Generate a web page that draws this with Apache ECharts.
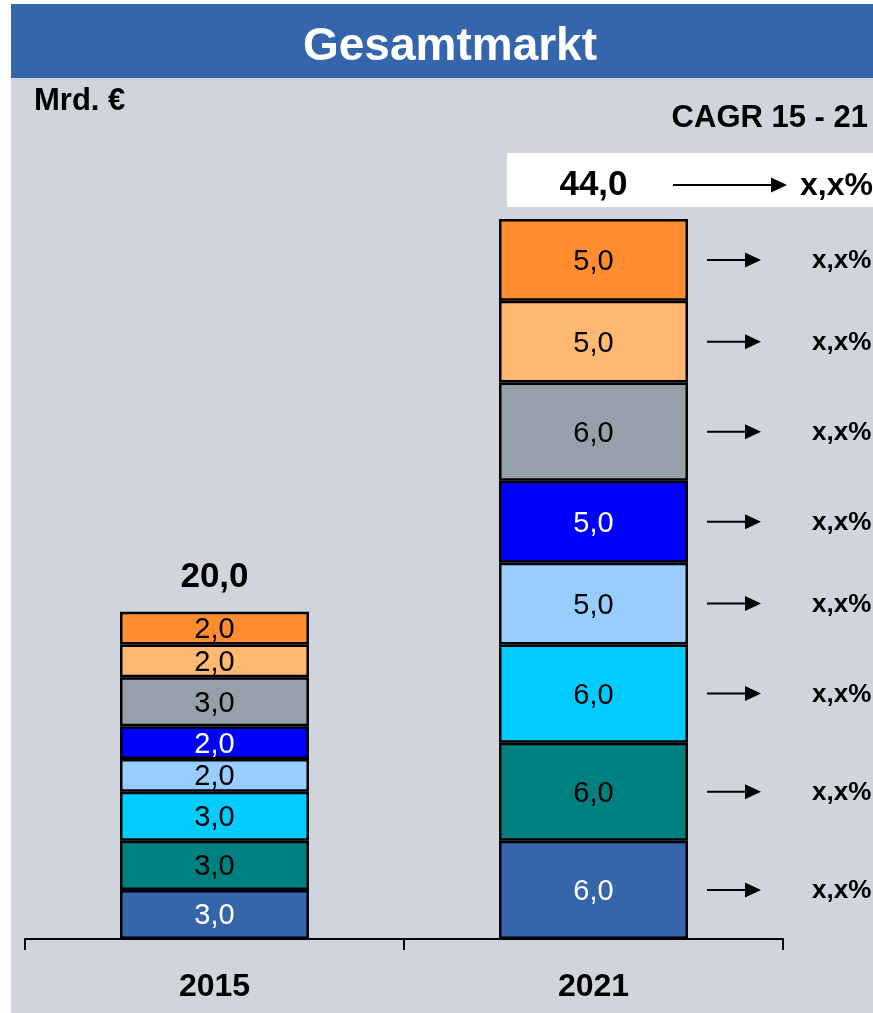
<!DOCTYPE html>
<html>
<head>
<meta charset="utf-8">
<script src="https://cdn.jsdelivr.net/npm/echarts@6/dist/echarts.min.js"></script>
<style>
  html, body { margin: 0; padding: 0; background: #ffffff; }
  #chart { width: 873px; height: 1013px; }
</style>
</head>
<body>
<div id="chart"></div>
<script>
// ---- data ----
const categories = ['2015', '2021'];
const segmentNames = ['Segment 1', 'Segment 2', 'Segment 3', 'Segment 4', 'Segment 5', 'Segment 6', 'Segment 7', 'Segment 8'];
const values2015 = [3, 3, 3, 2, 2, 3, 2, 2];
const values2021 = [6, 6, 6, 5, 5, 6, 5, 5];
const cagrSegments = ['x,x%', 'x,x%', 'x,x%', 'x,x%', 'x,x%', 'x,x%', 'x,x%', 'x,x%'];
const cagrTotal = [null, 'x,x%'];
const titleText = 'Gesamtmarkt';
const unitText = 'Mrd. \u20AC';
const cagrHeader = 'CAGR 15 - 21';

// ---- styles ----
const segmentColors = ['#3566AB', '#008080', '#00CCFF', '#99CCFF', '#0000FF', '#96A0AA', '#FFB871', '#FF8C2F'];
const labelColors = ['#ffffff', '#000000', '#000000', '#000000', '#ffffff', '#000000', '#000000', '#000000'];
const FONT = "'Liberation Sans', Arial, Helvetica, sans-serif";

const fmt = v => v.toFixed(1).replace('.', ',');
const sum = a => a.reduce((s, v) => s + v, 0);
const totals = [sum(values2015), sum(values2021)];

// cumulative ranges for 2021 segments (for CAGR arrows)
const ranges2021 = [];
{ let c = 0; values2021.forEach(v => { ranges2021.push([1, c, c + v]); c += v; }); }

const barSeries = segmentNames.map((name, i) => ({
  name: name,
  type: 'bar',
  stack: 'total',
  barWidth: 189,
  data: [values2015[i], values2021[i]],
  itemStyle: { color: segmentColors[i], borderColor: '#000', borderWidth: 2.5 },
  label: {
    show: true,
    position: 'inside',
    offset: [0, 2],
    formatter: p => fmt(p.value),
    color: labelColors[i],
    fontFamily: FONT,
    fontSize: 29
  },
  emphasis: { disabled: true }
}));

function arrow(x1, x2, y, headLen, headH) {
  return [
    { type: 'line', shape: { x1: x1, y1: y, x2: x2 - headLen + 1, y2: y }, style: { stroke: '#000', lineWidth: 2 } },
    { type: 'polygon', shape: { points: [[x2, y], [x2 - headLen, y - headH], [x2 - headLen, y + headH]] }, style: { fill: '#000' } }
  ];
}

const cagrSeries = {
  type: 'custom',
  data: ranges2021,
  z: 5,
  renderItem: function (params, api) {
    const p = api.coord([api.value(0), (api.value(1) + api.value(2)) / 2]);
    const y = p[1];
    return {
      type: 'group',
      children: arrow(p[0] + 113.5, p[0] + 167.5, y, 16, 7.5).concat([
        { type: 'text', x: p[0] + 218.5, y: y + 1,
          style: { text: cagrSegments[params.dataIndex], font: 'bold 26px ' + FONT, fill: '#000', align: 'left', verticalAlign: 'middle' } }
      ])
    };
  }
};

const totalSeries = {
  type: 'custom',
  data: totals.map((t, i) => [i, t]),
  z: 5,
  renderItem: function (params, api) {
    const p = api.coord([api.value(0), api.value(1)]);
    const ty = p[1] - 34;
    const children = [];
    const c = cagrTotal[params.dataIndex];
    if (c) {
      children.push({ type: 'rect', shape: { x: p[0] - 86.5, y: p[1] - 66, width: 873 - (p[0] - 86.5), height: 54 }, style: { fill: '#ffffff' } });
      arrow(p[0] + 79.5, p[0] + 193.5, ty, 16, 7.5).forEach(e => children.push(e));
      children.push({ type: 'text', x: p[0] + 206.5, y: ty + 1,
        style: { text: c, font: 'bold 32px ' + FONT, fill: '#000', align: 'left', verticalAlign: 'middle' } });
    }
    children.push({ type: 'text', x: p[0], y: ty,
      style: { text: fmt(api.value(1)), font: 'bold 35px ' + FONT, fill: '#000', align: 'center', verticalAlign: 'middle' } });
    return { type: 'group', children: children };
  }
};

const chart = echarts.init(document.getElementById('chart'), null, { renderer: 'canvas' });
chart.setOption({
  animation: false,
  backgroundColor: '#D0D4DC',
  title: {
    text: titleText,
    left: 450,
    top: 24,
    padding: 0,
    textAlign: 'center',
    textStyle: { color: '#ffffff', fontFamily: FONT, fontWeight: 'bold', fontSize: 46 }
  },
  graphic: [
    { type: 'rect', left: 0, top: 0, shape: { width: 11, height: 1013 }, style: { fill: '#ffffff' }, z: -10 },
    { type: 'rect', left: 0, top: 0, shape: { width: 873, height: 4 }, style: { fill: '#ffffff' }, z: -10 },
    { type: 'rect', left: 11, top: 4, shape: { width: 862, height: 74 }, style: { fill: '#3566AB' }, z: -5 },
    { type: 'text', left: 34, top: 86, style: { text: unitText, font: 'bold 31px ' + FONT, fill: '#000' } },
    { type: 'text', right: 5, top: 103, style: { text: cagrHeader, font: 'bold 31px ' + FONT, fill: '#000' } }
  ],
  grid: { left: 25, right: 90, top: 120.8, bottom: 74, containLabel: false },
  xAxis: {
    type: 'category',
    data: categories,
    boundaryGap: true,
    axisLine: { show: true, lineStyle: { color: '#000', width: 2 } },
    axisTick: { show: true, length: 11, lineStyle: { color: '#000', width: 2 } },
    axisLabel: { color: '#000', fontFamily: FONT, fontWeight: 'bold', fontSize: 32, margin: 32 },
    splitLine: { show: false }
  },
  yAxis: { type: 'value', min: 0, max: 50, show: false, splitLine: { show: false } },
  series: barSeries.concat([cagrSeries, totalSeries])
});
</script>
</body>
</html>
